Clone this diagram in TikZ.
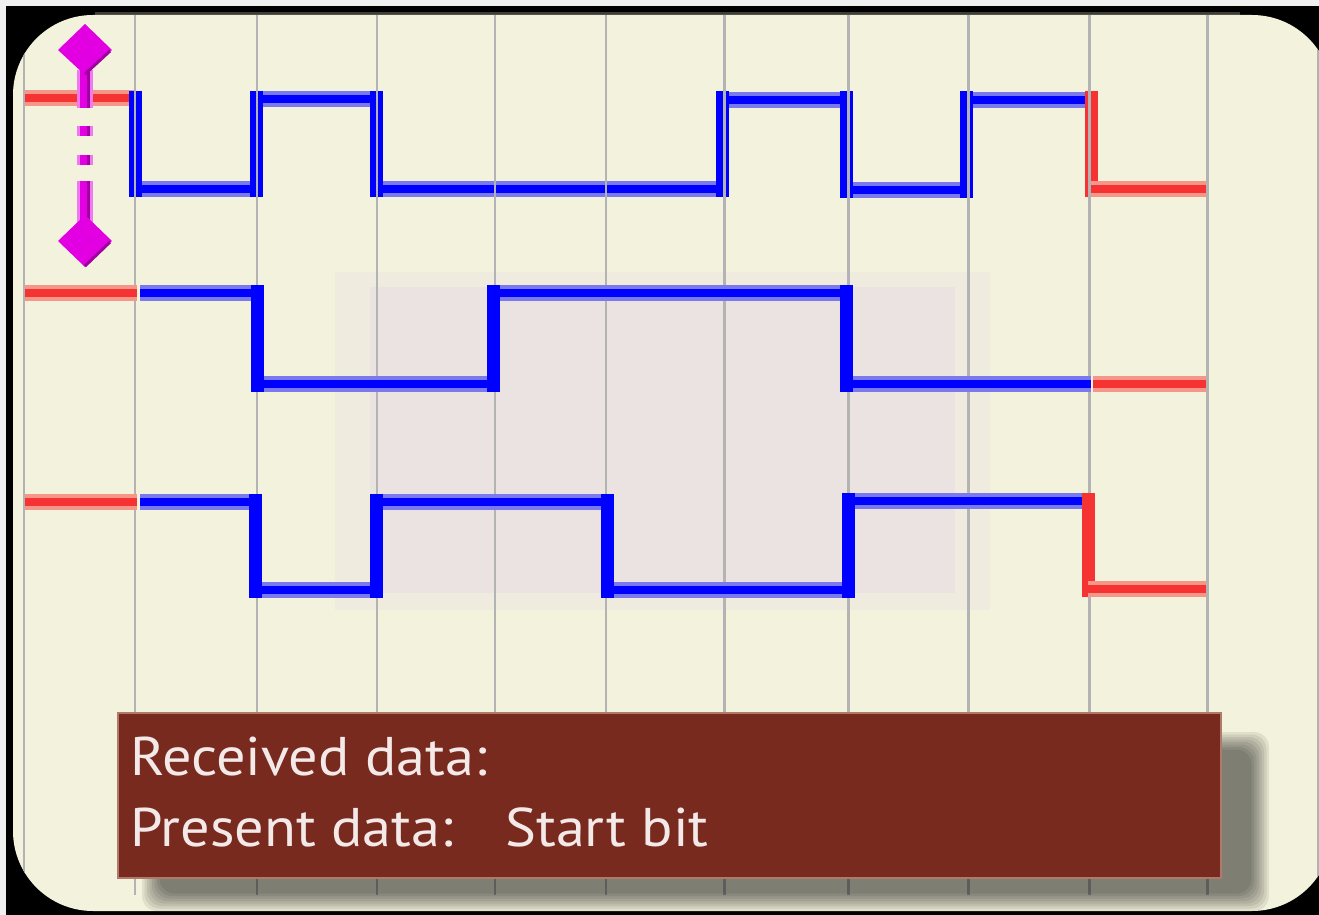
\documentclass[tikz,border=0pt]{standalone}
\usepackage{fontspec}
\setsansfont{PT Sans}
\usepackage{graphicx}
\usepackage{tikz}
\definecolor{PanelCream}{RGB}{243,242,220}
\definecolor{FrameTop}{RGB}{62,62,54}
\definecolor{GridGray}{RGB}{179,179,179}
\definecolor{SigBlue}{RGB}{0,0,255}
\definecolor{BlueFringe}{RGB}{122,122,238}
\definecolor{SigRed}{RGB}{245,51,51}
\definecolor{RedFringe}{RGB}{246,150,136}
\definecolor{WindowPink}{RGB}{235,227,225}
\definecolor{WindowEdge}{RGB}{240,235,223}
\definecolor{BoxBrown}{RGB}{121,42,30}
\definecolor{BoxEdge}{RGB}{176,122,106}
\definecolor{BoxText}{RGB}{243,233,233}
\definecolor{MarkMagenta}{RGB}{226,0,226}
\definecolor{MarkDark}{RGB}{160,0,160}
\definecolor{MarkPale}{RGB}{240,120,240}

\newcommand{\wide}[1]{\scalebox{1.07}[1]{#1}}

\tikzset{
  gridline/.style={draw=GridGray, line width=1.7pt},
  bluelevel/.style={draw=SigBlue, line width=4.6pt, preaction={draw=BlueFringe, line width=9.1pt}},
  redlevel/.style={draw=SigRed, line width=4.6pt, preaction={draw=RedFringe, line width=9.1pt}},
  blueedge/.style={draw=SigBlue, line width=7.4pt},
  rededge/.style={draw=SigRed, line width=7.4pt},
  boxtext/.style={text=BoxText, font=\sffamily\fontsize{31}{36}\selectfont, inner sep=0pt, anchor=base west},
  markstem/.style={draw=MarkMagenta, line width=5.7pt, preaction={draw=MarkPale, line width=9pt}},
  markshade/.style={draw=MarkDark, line width=1.7pt},
  shadowlayer/.style={fill=black, opacity=0.075, rounded corners=0.3cm}
}

\begin{document}
\begin{tikzpicture}[x=0.02cm, y=-0.02cm]
    \useasboundingbox (0,0) rectangle (1319,915);
    \clip (0,0) rectangle (1319,915);

    % Window frame and panel
    \fill[black!6] (0,0) rectangle (1319,915);
    \fill[black] (6,6) rectangle (1319,915);
    \draw[FrameTop, line width=1.7pt] (95,13.5) -- (1240,13.5);
    \fill[PanelCream, rounded corners=1.6cm] (13,15) rectangle (1332,911);

    % Sampling window
    \fill[WindowEdge] (335,272) rectangle (990,610);
    \fill[WindowPink] (370,287) rectangle (955,593);

    % Top trace (under the grid)
    \draw[redlevel] (25,98) -- (135,98);
    \draw[bluelevel] (135,189) -- (257,189) (257,99) -- (377,99) (377,189) -- (724,189)
        (724,100) -- (848,100) (848,190) -- (968,190) (968,100) -- (1089,100);
    \draw[blueedge] (135,91) -- (135,197) (256,91) -- (256,197) (376,91) -- (376,197)
        (722,91) -- (722,197) (846,91) -- (846,198) (966,91) -- (966,198);
    \draw[rededge] (1091,91) -- (1091,197);
    \draw[redlevel] (1091,189) -- (1206,189);

    % Grid lines
    \begin{scope}
      \clip[rounded corners=1.6cm] (13,15) rectangle (1332,911);
      \draw[gridline] (24,15) -- (24,895) (135,15) -- (135,895) (257,15) -- (257,895)
          (377,15) -- (377,895) (495,15) -- (495,895) (606,15) -- (606,895)
          (724,15) -- (724,895) (848,15) -- (848,895) (968,15) -- (968,895)
          (1089,15) -- (1089,895) (1207,15) -- (1207,895) (1318,15) -- (1318,895);
    \end{scope}

    % Middle trace
    \draw[redlevel] (25,293) -- (137,293);
    \draw[bluelevel] (140,293) -- (257,293) (257,384) -- (494,384) (494,293) -- (848,293)
        (848,384) -- (1091,384);
    \draw[blueedge] (257,285) -- (257,392) (493,285) -- (493,392) (846,285) -- (846,392);
    \draw[redlevel] (1093,384) -- (1206,384);

    % Bottom trace
    \draw[redlevel] (25,502) -- (137,502);
    \draw[bluelevel] (140,502) -- (255,502) (255,590) -- (376,590) (376,502) -- (607,502)
        (607,590) -- (848,590) (848,501) -- (1088,501);
    \draw[blueedge] (255,494) -- (255,598) (376,494) -- (376,598) (607,494) -- (607,598)
        (848,493) -- (848,598);
    \draw[rededge] (1088,493) -- (1088,597);
    \draw[redlevel] (1088,589) -- (1206,589);

    % Cursor marker
    \draw[markstem] (85,70) -- (85,108) (85,126) -- (85,136) (85,155) -- (85,165) (85,181) -- (85,222);
    \draw[markshade] (88.5,72) -- (88.5,108) (88.5,126) -- (88.5,136) (88.5,155) -- (88.5,165)
        (88.5,181) -- (88.5,222);
    \fill[MarkMagenta] (85,24) -- (112,50) -- (85,75) -- (58,50) -- cycle;
    \draw[markshade] (110,51) -- (85,74);
    \fill[MarkMagenta] (85,215) -- (112,241) -- (85,267) -- (58,241) -- cycle;
    \draw[markshade] (110,242) -- (85,266);

    % Status box shadow
    \fill[shadowlayer] (142,732) rectangle (1269,911);
    \fill[shadowlayer] (144.5,734.5) rectangle (1266.5,908.5);
    \fill[shadowlayer] (147,737) rectangle (1264,906);
    \fill[shadowlayer] (149.5,739.5) rectangle (1261.5,903.5);
    \fill[shadowlayer] (152,742) rectangle (1259,901);
    \fill[shadowlayer] (154.5,744.5) rectangle (1256.5,898.5);
    \fill[shadowlayer] (157,747) rectangle (1254,896);
    \fill[shadowlayer] (159.5,749.5) rectangle (1251.5,893.5);

    % Status box
    \filldraw[fill=BoxBrown, draw=BoxEdge, line width=1.2pt] (118,713) rectangle (1221,878);
    \node[boxtext] (recv) at (130,775) {\wide{Received data:}};
    \node[boxtext] (pres) at (130,846) {\wide{Present data:}};
    \node[boxtext] (bit) at (505,846) {\wide{Start bit}};
\end{tikzpicture}
\end{document}
